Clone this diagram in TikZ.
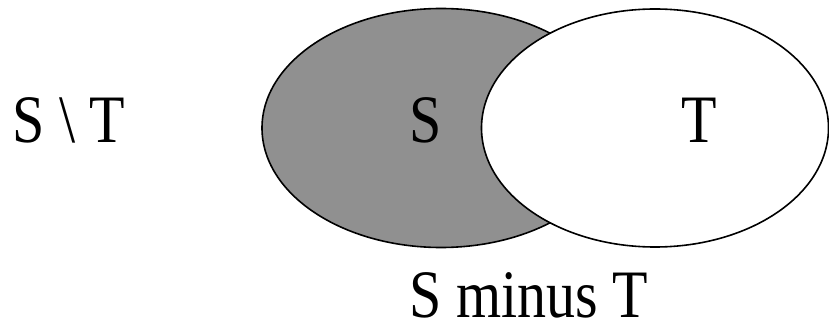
\documentclass[tikz,border=0pt]{standalone}
\usepackage{fontspec}
\setmainfont{Liberation Serif}
\definecolor{setgray}{HTML}{909090}
\newcommand{\tallt}[1]{\scalebox{1}[1.17]{#1}}
\tikzset{
  setshape/.style={draw=black, line width=1.6pt},
  lbl/.style={font=\fontsize{58}{60}\selectfont, inner sep=0pt, anchor=base}
}
\begin{document}
\begin{tikzpicture}[x=1pt,y=-1pt]
\useasboundingbox (0,0) rectangle (829,323);
\path[setshape, fill=setgray] (441,128) ellipse [x radius=179, y radius=119.5];
\path[setshape, fill=white] (655,128) ellipse [x radius=173.5, y radius=119];
\node[lbl] (st) at (69,143) {\tallt{S \textbackslash{} T}};
\node[lbl] (s) at (426,143) {\tallt{S}};
\node[lbl] (t) at (699,143) {\tallt{T}};
\node[lbl, text depth=0pt] (cap) at (529,317) {\tallt{S minus T}};
\end{tikzpicture}
\end{document}
